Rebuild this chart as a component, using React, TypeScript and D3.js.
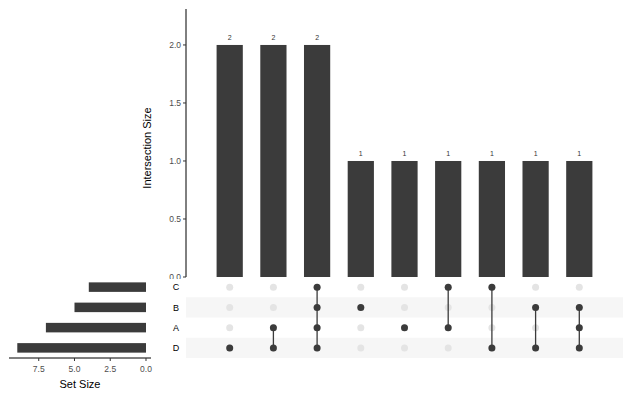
import React from 'react';
import * as d3 from 'd3';

const sets = ['C', 'B', 'A', 'D'];
const setSizes = [4, 5, 7, 9];
const intersectionSizes = [2, 2, 2, 1, 1, 1, 1, 1, 1];
const intersectionMembers = [
  ['D'],
  ['A', 'D'],
  ['A', 'B', 'C', 'D'],
  ['B'],
  ['A'],
  ['A', 'C'],
  ['C', 'D'],
  ['B', 'D'],
  ['A', 'B', 'D'],
];
const yTicks = [0, 0.5, 1, 1.5, 2];
const setTicks = [0, 2.5, 5, 7.5];

const W = 633;
const H = 399;
const font = 'Liberation Sans, Arial, sans-serif';
const dark = '#3b3b3b';

const App = () => {
  const x = d3.scaleLinear().domain([0, intersectionSizes.length + 1]).range([186, 623]);
  const y = d3.scaleLinear().domain([0, 2.31]).range([277, 9]);
  const row = d3.scaleBand().domain(sets).range([277, 358]);
  const sx = d3.scaleLinear().domain([9.58, -0.35]).range([9, 151]);
  const barW = x(0.6) - x(0);
  const setBarH = row.bandwidth() * 0.47;

  return (
    <svg width={W} height={H} style={{ position: 'absolute', left: 0, top: 0, fontFamily: font }}>
      <rect width={W} height={H} fill="#fff" />
      {/* intersection bars */}
      {intersectionSizes.map((v, i) => (
        <g key={i}>
          <rect x={x(i + 1) - barW / 2} y={y(v)} width={barW} height={y(0) - y(v)} fill={dark} />
          <text x={x(i + 1)} y={y(v) - 5} fontSize={7} textAnchor="middle" fill="#333">
            {v}
          </text>
        </g>
      ))}
      {/* y axis */}
      <line x1={186} x2={186} y1={9} y2={277} stroke="#000" strokeWidth={1} />
      {yTicks.map((t) => (
        <g key={t}>
          <line x1={183} x2={186} y1={y(t)} y2={y(t)} stroke="#333" />
          <text x={181} y={y(t)} dy="0.35em" fontSize={8.5} textAnchor="end" fill="#4d4d4d">
            {t.toFixed(1)}
          </text>
        </g>
      ))}
      <text
        transform={`translate(151,${(9 + 277) / 2 + 5}) rotate(-90)`}
        fontSize={11}
        textAnchor="middle"
        fill="#000"
      >
        Intersection Size
      </text>
      {/* matrix panel */}
      <rect x={150} y={279} width={W - 150} height={85} fill="#fff" />
      {sets.map((s, i) =>
        i % 2 === 1 ? (
          <rect key={s} x={186} y={row(s)} width={623 - 186} height={row.bandwidth()} fill="#f6f6f6" />
        ) : null,
      )}
      {sets.map((s) => (
        <text key={s} x={176} y={row(s)! + row.bandwidth() / 2} dy="0.35em" fontSize={9} textAnchor="middle" fill="#000">
          {s}
        </text>
      ))}
      {intersectionMembers.map((m, i) => {
        const cx = x(i + 1);
        const ys = m.map((s) => row(s)! + row.bandwidth() / 2);
        return (
          <g key={i}>
            {sets.map((s) => (
              <circle key={s} cx={cx} cy={row(s)! + row.bandwidth() / 2} r={3.5} fill="#e4e4e4" />
            ))}
            {m.length > 1 && (
              <line x1={cx} x2={cx} y1={d3.min(ys)} y2={d3.max(ys)} stroke={dark} strokeWidth={1.3} />
            )}
            {ys.map((cy, j) => (
              <circle key={j} cx={cx} cy={cy} r={3.5} fill={dark} />
            ))}
          </g>
        );
      })}
      {/* set size bars */}
      {sets.map((s, i) => (
        <rect
          key={s}
          x={sx(setSizes[i])}
          y={row(s)! + (row.bandwidth() - setBarH) / 2}
          width={sx(0) - sx(setSizes[i])}
          height={setBarH}
          fill={dark}
        />
      ))}
      <line x1={9} x2={151} y1={358} y2={358} stroke="#000" />
      {setTicks.map((t) => (
        <g key={t}>
          <line x1={sx(t)} x2={sx(t)} y1={358} y2={361} stroke="#333" />
          <text x={sx(t)} y={369} dy="0.35em" fontSize={8.5} textAnchor="middle" fill="#4d4d4d">
            {t.toFixed(1)}
          </text>
        </g>
      ))}
      <text x={80} y={384} dy="0.35em" fontSize={11} textAnchor="middle" fill="#000">
        Set Size
      </text>
    </svg>
  );
};

export default App;
